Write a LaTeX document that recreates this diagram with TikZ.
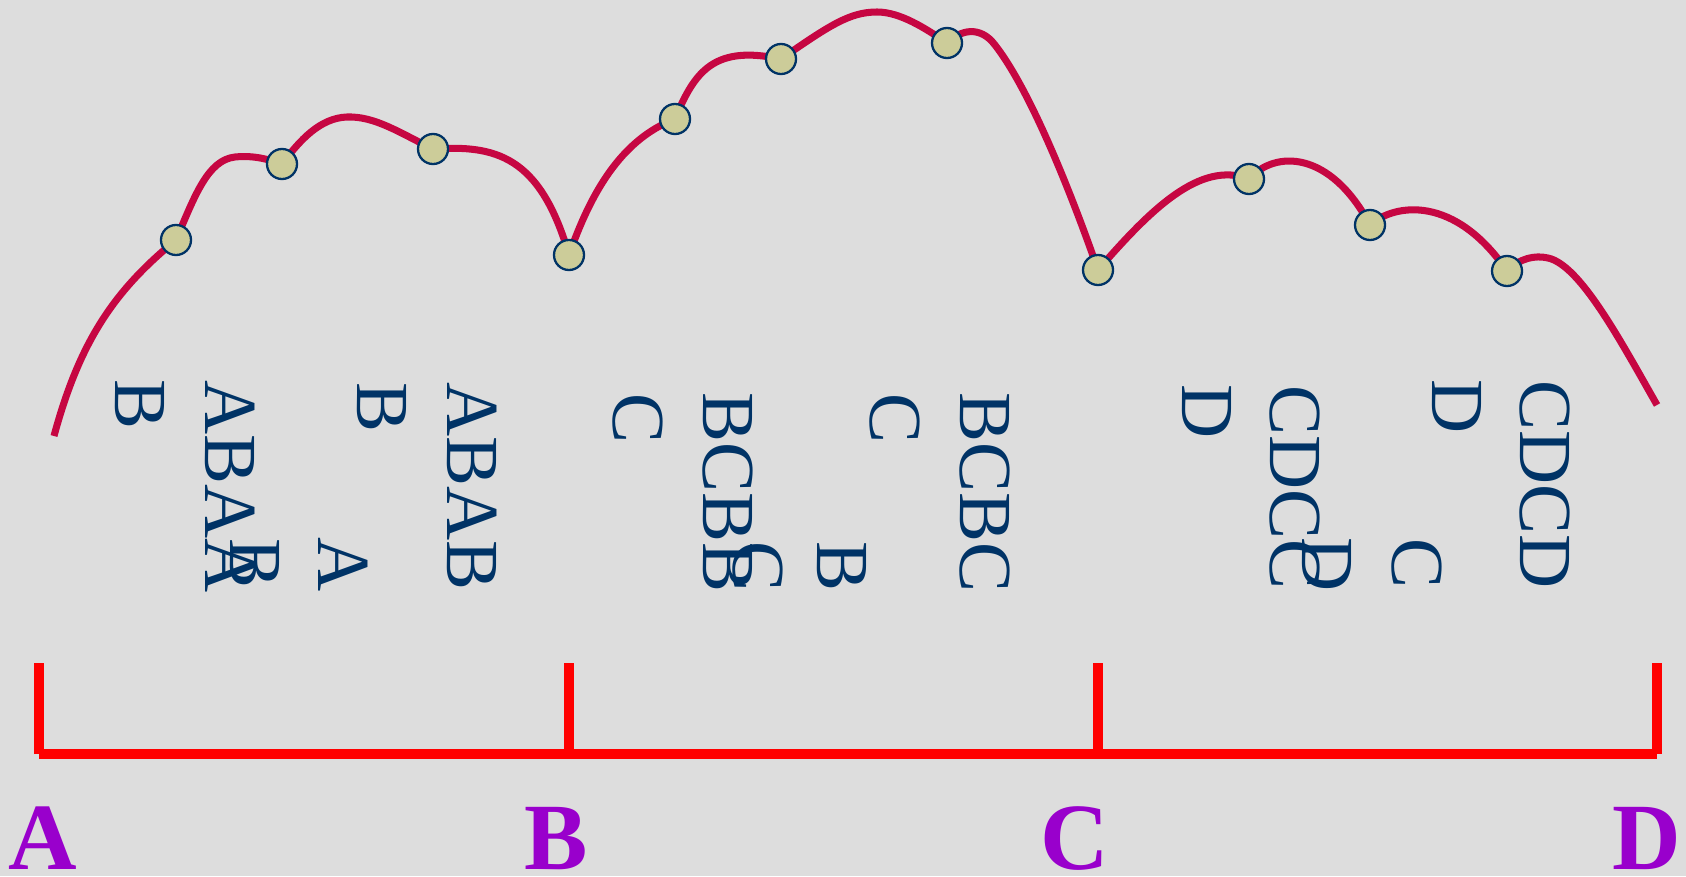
\documentclass[tikz,border=0pt]{standalone}
\usepackage{fontspec}
\setmainfont{Liberation Serif}
\usetikzlibrary{positioning}
\definecolor{curvered}{RGB}{198,6,66}
\definecolor{dotfill}{RGB}{204,204,153}
\definecolor{navy}{RGB}{0,51,102}
\definecolor{labelpurple}{RGB}{153,0,204}
\definecolor{backdrop}{RGB}{221,221,221}

\begin{document}
\begin{tikzpicture}[
        x=0.01cm, y=-0.01cm,
        curve/.style={draw=curvered, line width=2pt, line join=round},
        dot/.style={circle, draw=navy, line width=0.65pt, fill=dotfill, minimum size=0.3cm, inner sep=0pt},
        seq/.style={rotate=-90, anchor=base west, inner sep=0pt, text=navy, font=\fontsize{21.3}{22}\selectfont},
        bracket/.style={draw=red, line width=3.1pt},
        endlabel/.style={anchor=base, inner sep=0pt, text=labelpurple, font=\fontsize{27}{28}\selectfont\bfseries}
    ]
    % Background
    \fill[backdrop] (0,0) rectangle (1686,876);
    \useasboundingbox (0,0) rectangle (1686,876);

    % Points on the curve
    \coordinate (p1) at (176,240);
    \coordinate (p2) at (282,164);
    \coordinate (p3) at (433,149);
    \coordinate (p4) at (569,255);
    \coordinate (p5) at (675,119);
    \coordinate (p6) at (781,59);
    \coordinate (p7) at (947,43);
    \coordinate (p8) at (1098,270);
    \coordinate (p9) at (1249,179);
    \coordinate (p10) at (1370,225);
    \coordinate (p11) at (1507,271);
    \coordinate (cstart) at (54,436);
    \coordinate (cend) at (1657,405);

    % Curve, one arc per pair of points
    \draw[curve] (cstart) .. controls (80,340) and (115,290) .. (p1);
    \draw[curve] (p1) .. controls (195,195) and (208,160) .. (235,157)
                      .. controls (255,155) and (270,160) .. (p2);
    \draw[curve] (p2) .. controls (300,140) and (320,118) .. (347,117)
                      .. controls (375,116) and (400,133) .. (p3);
    \draw[curve] (p3) .. controls (495,145) and (540,155) .. (p4);
    \draw[curve] (p4) .. controls (590,195) and (620,140) .. (p5);
    \draw[curve] (p5) .. controls (695,70) and (715,45) .. (p6);
    \draw[curve] (p6) .. controls (830,25) and (850,12) .. (877,12)
                      .. controls (900,12) and (925,28) .. (p7);
    \draw[curve] (p7) .. controls (960,30) and (980,25) .. (995,45)
                      .. controls (1030,90) and (1070,190) .. (p8);
    \draw[curve] (p8) .. controls (1150,210) and (1200,160) .. (p9);
    \draw[curve] (p9) .. controls (1275,150) and (1330,150) .. (p10);
    \draw[curve] (p10) .. controls (1395,203) and (1455,195) .. (p11);
    \draw[curve] (p11) .. controls (1520,258) and (1535,255) .. (1548,258)
                       .. controls (1580,265) and (1620,340) .. (cend);

    % Dots
    \node[dot] (d1) at (p1) {};
    \node[dot] (d2) at (p2) {};
    \node[dot] (d3) at (p3) {};
    \node[dot] (d4) at (p4) {};
    \node[dot] (d5) at (p5) {};
    \node[dot] (d6) at (p6) {};
    \node[dot] (d7) at (p7) {};
    \node[dot] (d8) at (p8) {};
    \node[dot] (d9) at (p9) {};
    \node[dot] (d10) at (p10) {};
    \node[dot] (d11) at (p11) {};

    % Letter columns between A and B
    \node[seq] (ab1) at (115,379) {B};
    \node[seq] (ab2) at (205,380) {ABAA};
    \node[seq] (ab2x) at (230,538) {B};
    \node[seq] (ab3) at (357,382) {B};
    \node[seq] (ab3x) at (318,537) {A};
    \node[seq] (ab4) at (447,382) {ABAB};

    % Letter columns between B and C
    \node[seq] (bc1) at (613,393) {C};
    \node[seq] (bc2) at (703,392) {BCBB};
    \node[seq] (bc2x) at (733,541) {C};
    \node[seq] (bc3) at (870,393) {C};
    \node[seq] (bc3x) at (817,541) {B};
    \node[seq] (bc4) at (960,392) {BCBC};

    % Letter columns between C and D
    \node[seq] (cd1) at (1182,384) {D};
    \node[seq] (cd2) at (1270,385) {CDCC};
    \node[seq] (cd2x) at (1302,537) {D};
    \node[seq] (cd3) at (1432,379) {D};
    \node[seq] (cd3x) at (1392,538) {C};
    \node[seq] (cd4) at (1520,380) {CDCD};

    % Bracket
    \coordinate (tA) at (39,754);
    \coordinate (tB) at (569,754);
    \coordinate (tC) at (1098,754);
    \coordinate (tD) at (1657,754);
    \draw[bracket] (tA) -- (tD);
    \draw[bracket] (tA) -- ++(0,-91);
    \draw[bracket] (tB) -- ++(0,-91);
    \draw[bracket] (tC) -- ++(0,-91);
    \draw[bracket] (tD) -- ++(0,-91);

    % End labels
    \node[endlabel] (lA) at (43,869) {A};
    \node[endlabel] (lB) at (556,869) {B};
    \node[endlabel] (lC) at (1075,869) {C};
    \node[endlabel] (lD) at (1647,869) {D};
\end{tikzpicture}
\end{document}
